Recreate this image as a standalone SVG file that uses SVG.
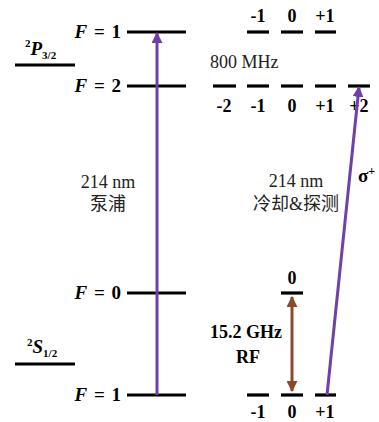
<svg xmlns="http://www.w3.org/2000/svg" width="379" height="422" viewBox="0 0 379 422">
<style>
.lv{stroke:#000;stroke-width:3.2;fill:none}
.fl{font-family:"Liberation Serif",serif;font-weight:bold;font-size:19px;fill:#000;text-anchor:end}
.ml{font-family:"Liberation Serif",serif;font-weight:bold;font-size:18px;fill:#000;text-anchor:middle}
.rg{font-family:"Liberation Serif",serif;font-size:18px;fill:#222}
.cj{font-family:"Liberation Serif","Noto Sans CJK SC",serif;font-size:18px;fill:#222;text-anchor:middle}
.it{font-style:italic}
</style>
<defs>
<marker id="ap" viewBox="0 0 10 10" refX="9" refY="5" markerWidth="11" markerHeight="11" markerUnits="userSpaceOnUse" orient="auto"><path d="M0,0L10,5L0,10z" fill="#7040A8"/></marker>
<marker id="ab" viewBox="0 0 10 10" refX="9" refY="5" markerWidth="11" markerHeight="11" markerUnits="userSpaceOnUse" orient="auto-start-reverse"><path d="M0,0L10,5L0,10z" fill="#8A4A2A"/></marker>
</defs>
<g id="P32-term">
<line class="lv" x1="15" y1="65" x2="75" y2="65"/>
<text x="25" y="55" font-family="Liberation Serif,serif" font-weight="bold" font-size="19"><tspan font-size="11" dy="-8">2</tspan><tspan class="it" dy="8">P</tspan><tspan font-size="11" dy="4">3/2</tspan></text>
</g>
<g id="S12-term">
<line class="lv" x1="15" y1="364" x2="75" y2="364"/>
<text x="27" y="353" font-family="Liberation Serif,serif" font-weight="bold" font-size="19"><tspan font-size="11" dy="-7">2</tspan><tspan class="it" dy="7">S</tspan><tspan font-size="11" dy="4">1/2</tspan></text>
</g>
<g id="P-F1">
<line class="lv" x1="127" y1="32" x2="186" y2="32"/>
<text class="fl" x="121" y="38" word-spacing="2"><tspan class="it">F</tspan> = 1</text>
</g>
<g id="P-F2">
<line class="lv" x1="127" y1="86" x2="186" y2="86"/>
<text class="fl" x="121" y="92" word-spacing="2"><tspan class="it">F</tspan> = 2</text>
</g>
<g id="S-F0">
<line class="lv" x1="127" y1="293" x2="186" y2="293"/>
<text class="fl" x="121" y="299" word-spacing="2"><tspan class="it">F</tspan> = 0</text>
</g>
<g id="S-F1">
<line class="lv" x1="127" y1="395" x2="186" y2="395"/>
<text class="fl" x="121" y="401" word-spacing="2"><tspan class="it">F</tspan> = 1</text>
</g>
<g id="P-F1-sub">
<line class="lv" x1="247" y1="32" x2="269" y2="32"/>
<line class="lv" x1="281" y1="32" x2="303" y2="32"/>
<line class="lv" x1="315" y1="32" x2="336" y2="32"/>
<text class="ml" x="258" y="22">-1</text>
<text class="ml" x="292" y="22">0</text>
<text class="ml" x="325" y="22">+1</text>
</g>
<g id="P-F2-sub">
<line class="lv" x1="213" y1="86" x2="236" y2="86"/>
<line class="lv" x1="247" y1="86" x2="269" y2="86"/>
<line class="lv" x1="281" y1="86" x2="303" y2="86"/>
<line class="lv" x1="315" y1="86" x2="336" y2="86"/>
<line class="lv" x1="348" y1="86" x2="370" y2="86"/>
<text class="ml" x="224" y="112">-2</text>
<text class="ml" x="258" y="112">-1</text>
<text class="ml" x="292" y="112">0</text>
<text class="ml" x="325" y="112">+1</text>
<text class="ml" x="359" y="112">+2</text>
</g>
<g id="S-F0-sub">
<line class="lv" x1="281" y1="293" x2="303" y2="293"/>
<text class="ml" x="292" y="284">0</text>
</g>
<g id="S-F1-sub">
<line class="lv" x1="247" y1="395" x2="269" y2="395"/>
<line class="lv" x1="281" y1="395" x2="303" y2="395"/>
<line class="lv" x1="315" y1="395" x2="336" y2="395"/>
<text class="ml" x="258" y="418">-1</text>
<text class="ml" x="292" y="418">0</text>
<text class="ml" x="325" y="418">+1</text>
</g>
<g id="labels">
<text class="rg" x="210" y="68">800 MHz</text>
<text class="cj" x="108" y="188">214 nm</text>
<text class="cj" x="108" y="210">泵浦</text>
<text class="cj" x="296" y="187">214 nm</text>
<text class="cj" x="296" y="210">冷却&amp;探测</text>
<text class="ml" x="246" y="338" font-size="19">15.2 GHz</text>
<text class="ml" x="248" y="363" font-size="19">RF</text>
<text x="358" y="182" font-family="Liberation Serif,serif" font-weight="bold" font-size="19">σ<tspan font-size="12" dy="-7">+</tspan></text>
</g>
<g id="connectors">
<line x1="157" y1="395" x2="157" y2="33" stroke="#7040A8" stroke-width="3" marker-end="url(#ap)"/>
<line x1="327" y1="395" x2="359" y2="87" stroke="#7040A8" stroke-width="3" marker-end="url(#ap)"/>
<line x1="292" y1="297" x2="292" y2="391" stroke="#8A4A2A" stroke-width="3" marker-start="url(#ab)" marker-end="url(#ab)"/>
</g>
</svg>
